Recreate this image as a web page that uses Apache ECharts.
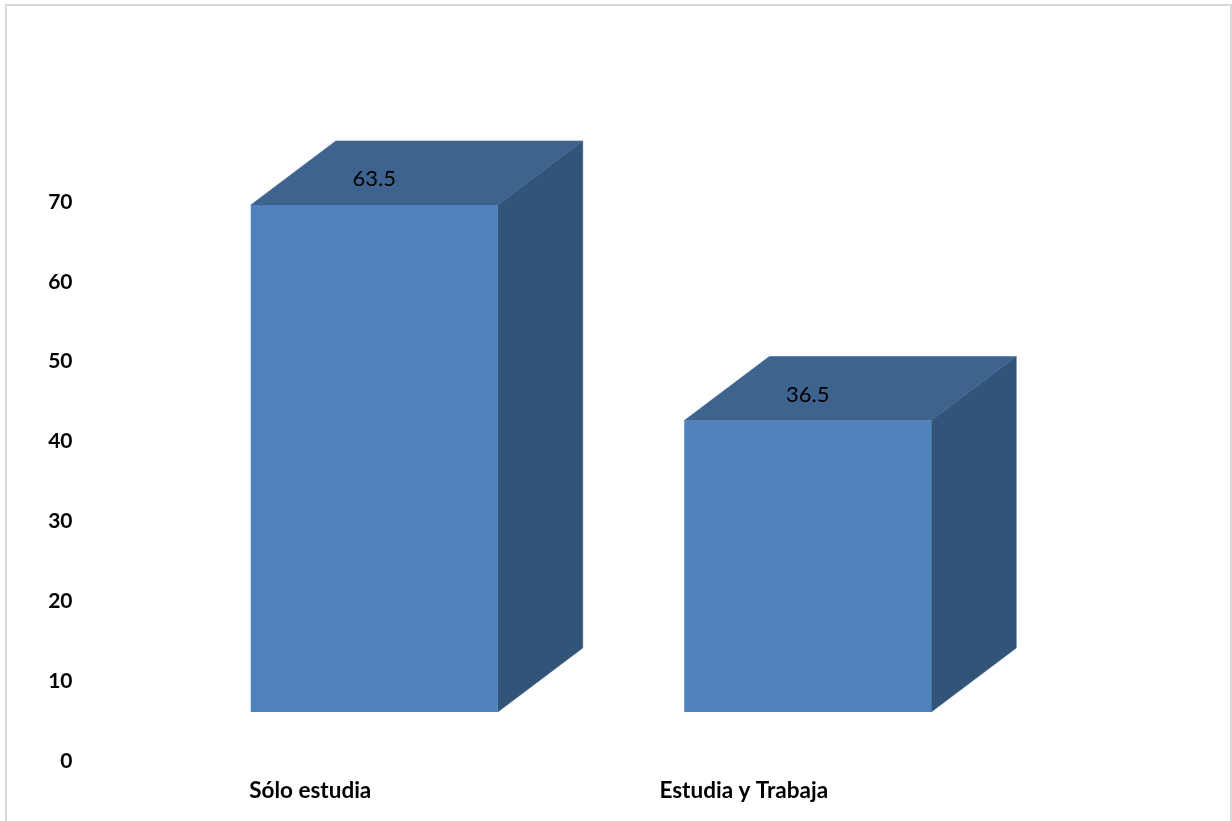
<!DOCTYPE html>
<html>
<head>
<meta charset="utf-8">
<style>
html,body{margin:0;padding:0;background:#fff;overflow:hidden}
#frame{position:absolute;left:5px;top:4px;width:1223px;height:830px;border:2px solid #d9d9d9;box-sizing:content-box}
#chart{position:absolute;left:0;top:0;width:1232px;height:821px}
</style>
<script src="https://cdn.jsdelivr.net/npm/echarts@6/dist/echarts.min.js"></script>
</head>
<body>
<div id="frame"></div>
<div id="chart"></div>
<script>
var categories = ["Sólo estudia", "Estudia y Trabaja"];
var values = [63.5, 36.5];
var yTicks = [0, 70, 10];

var FONT = "Lato, 'Open Sans', sans-serif";
var FRONT = "#4f81bd", TOP = "#3e638f", SIDE = "#335479";
var BAR_W = 247, DX = 85, DY = 64, LIFT = 49;

var chart = echarts.init(document.getElementById("chart"), null, {renderer: "canvas"});

function renderBar(params, api) {
  var i = api.value(0), v = api.value(1);
  var top = api.coord([i, v]), base = api.coord([i, 0]);
  var x0 = top[0] - BAR_W / 2, x1 = top[0] + BAR_W / 2;
  var yT = top[1] - LIFT, yB = base[1] - LIFT;
  return {
    type: "group",
    children: [
      {type: "polygon", shape: {points: [[x1, yT], [x1 + DX, yT - DY], [x1 + DX, yB - DY], [x1, yB]]}, style: {fill: SIDE, stroke: SIDE, lineWidth: 0.5}},
      {type: "polygon", shape: {points: [[x0, yT], [x0 + DX, yT - DY], [x1 + DX, yT - DY], [x1, yT]]}, style: {fill: TOP, stroke: TOP, lineWidth: 0.5}},
      {type: "rect", shape: {x: x0, y: yT, width: BAR_W, height: yB - yT}, style: {fill: FRONT}},
      {type: "text", x: top[0], y: yT - 26, style: {text: String(v), fill: "#000", font: "22px " + FONT, align: "center", verticalAlign: "middle"}}
    ]
  };
}

chart.setOption({
  animation: false,
  backgroundColor: "transparent",
  grid: {left: 157.5, right: 207.5, top: 202, bottom: 60, containLabel: false},
  xAxis: {
    type: "category",
    data: categories,
    axisLine: {show: false},
    axisTick: {show: false},
    splitLine: {show: false},
    axisLabel: {color: "#000", fontFamily: FONT, fontWeight: "bold", fontSize: 22.5, margin: 18, padding: [0, 128, 0, 0], interval: 0}
  },
  yAxis: {
    type: "value",
    min: yTicks[0],
    max: yTicks[1],
    interval: yTicks[2],
    axisLine: {show: false},
    axisTick: {show: false},
    splitLine: {show: false},
    axisLabel: {color: "#000", fontFamily: FONT, fontWeight: "bold", fontSize: 21, margin: 85}
  },
  series: [{
    type: "custom",
    renderItem: renderBar,
    data: values.map(function (v, i) { return [i, v]; }),
    encode: {x: 0, y: 1},
    clip: false
  }]
});
</script>
</body>
</html>
